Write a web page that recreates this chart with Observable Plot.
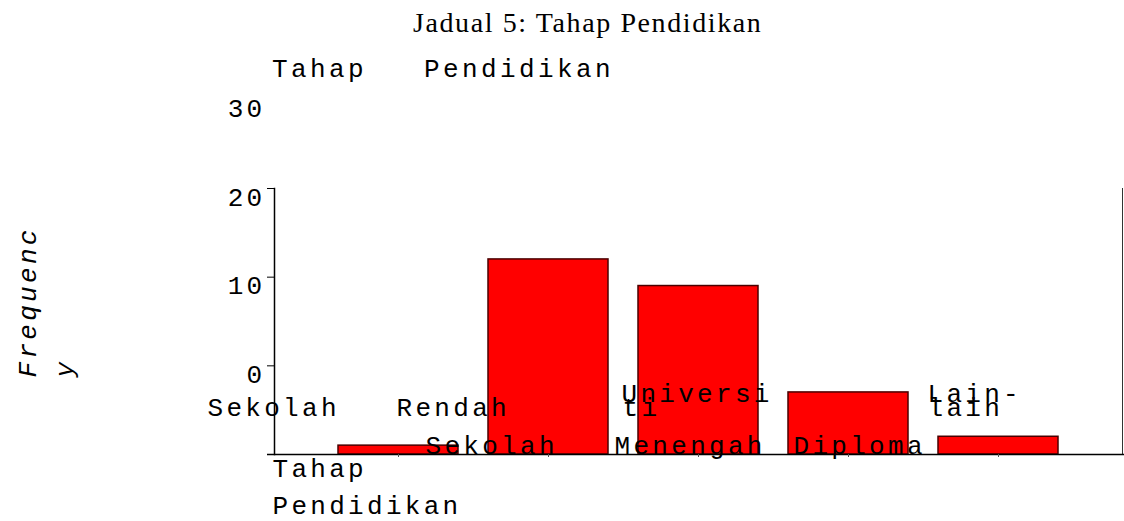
<!DOCTYPE html>
<html><head><meta charset="utf-8">
<script src="https://cdn.jsdelivr.net/npm/d3@7"></script>
<script src="https://cdn.jsdelivr.net/npm/@observablehq/plot@0.6"></script>
<style>
body{margin:0;background:#fff;width:1124px;height:521px;overflow:hidden;}
#header{position:relative;height:85px;}
#title{position:absolute;left:413px;top:9px;font-size:28px;font-family:"Liberation Serif";letter-spacing:1.6px;white-space:nowrap;line-height:1;color:#000;}
#subtitle{position:absolute;left:272px;top:57px;font-size:26px;font-family:"Liberation Mono";letter-spacing:3.4px;white-space:pre;line-height:1;color:#000;}
#chart svg text{letter-spacing:3.3px;}
</style></head><body>
<div id="header"><div id="title"></div><div id="subtitle"></div></div>
<div id="chart"></div>
<script>
// ---- data ----
const categories = ["Sekolah Rendah", "Sekolah Menengah", "Universiti", "Diploma", "Lain-lain"];
const frequencies = [1, 22, 19, 7, 2];
const yTickValues = [10, 20, 30, 40];
const yTickLabels = ["0", "10", "20", "30"];
const chartTitle = "Jadual 5: Tahap Pendidikan";
const chartSubtitle = "Tahap   Pendidikan";
const xAxisLabel = "Tahap\nPendidikan";
const yAxisLabel = "Frequenc\ny";

// garbled tick-label fragments as they appear in the source picture
const labelFragments = [
  {cat: 0, text: "Sekolah   Rendah", row: 1},
  {cat: 1, text: "Sekolah   Menengah", row: 2},
  {cat: 2, text: "Universi", row: 0},
  {cat: 2, text: "ti", row: 1},
  {cat: 3, text: "Diploma", row: 2},
  {cat: 4, text: "Lain-", row: 0},
  {cat: 4, text: "lain", row: 1}
];

// ---- layout ----
const fragmentDx = [-191, -123, -77, -76, -55, -71, -71];
const rowDy = [-53, -39, -1];

document.getElementById("title").textContent = chartTitle;
document.getElementById("subtitle").textContent = chartSubtitle;

const data = categories.map((c, i) => ({category: c, frequency: frequencies[i]}));

const plot = Plot.plot({
  width: 1124,
  height: 436,
  marginTop: 103,
  marginBottom: 67,
  marginLeft: 274,
  marginRight: 2,
  style: "font-family:'Liberation Mono';font-size:26px;color:#000;background:#fff;overflow:visible;",
  x: {type: "band", domain: categories, paddingInner: 0.2, paddingOuter: 0.41, axis: null},
  y: {domain: [0, 30], axis: null},
  marks: [
    Plot.barY(data, {x: "category", y: "frequency", fill: "#ff0000", stroke: "#4a0000", strokeWidth: 1.5}),
    Plot.frame({anchor: "left", stroke: "#000", strokeWidth: 1.5}),
    Plot.frame({anchor: "right", stroke: "#333", strokeWidth: 1}),
    Plot.ruleY([0], {insetLeft: -7, insetRight: -2, strokeWidth: 1.5, stroke: "#000"}),
    Plot.axisY({ticks: [10, 20, 30], tickSize: 7, tickFormat: () => "", label: null, stroke: "#000"}),
    Plot.axisY(yTickValues, {tickSize: 0, tickPadding: 9, dy: 9, label: null, fontSize: 26,
      tickFormat: d => yTickLabels[yTickValues.indexOf(d)]}),
    Plot.axisX({tickSize: 3, tickFormat: () => "", label: null, stroke: "#555"}),
    ...labelFragments.map((f, i) => Plot.text([f], {
      x: d => categories[d.cat], text: "text", frameAnchor: "bottom",
      textAnchor: "start", lineAnchor: "bottom", dx: fragmentDx[i], dy: rowDy[f.row],
      fontSize: 26, fill: "#000"
    })),
    Plot.text([xAxisLabel], {frameAnchor: "bottom-left", textAnchor: "start", lineAnchor: "top",
      dx: -2, dy: -4, lineHeight: 1.42, fontSize: 26, fill: "#000"}),
    Plot.text([yAxisLabel], {frameAnchor: "left", rotate: -90, textAnchor: "start", lineAnchor: "top",
      dx: -265, dy: 56, lineHeight: 1.42, fontSize: 26, fontStyle: "italic", fill: "#000"})
  ]
});
document.getElementById("chart").appendChild(plot);
</script>
</body></html>
